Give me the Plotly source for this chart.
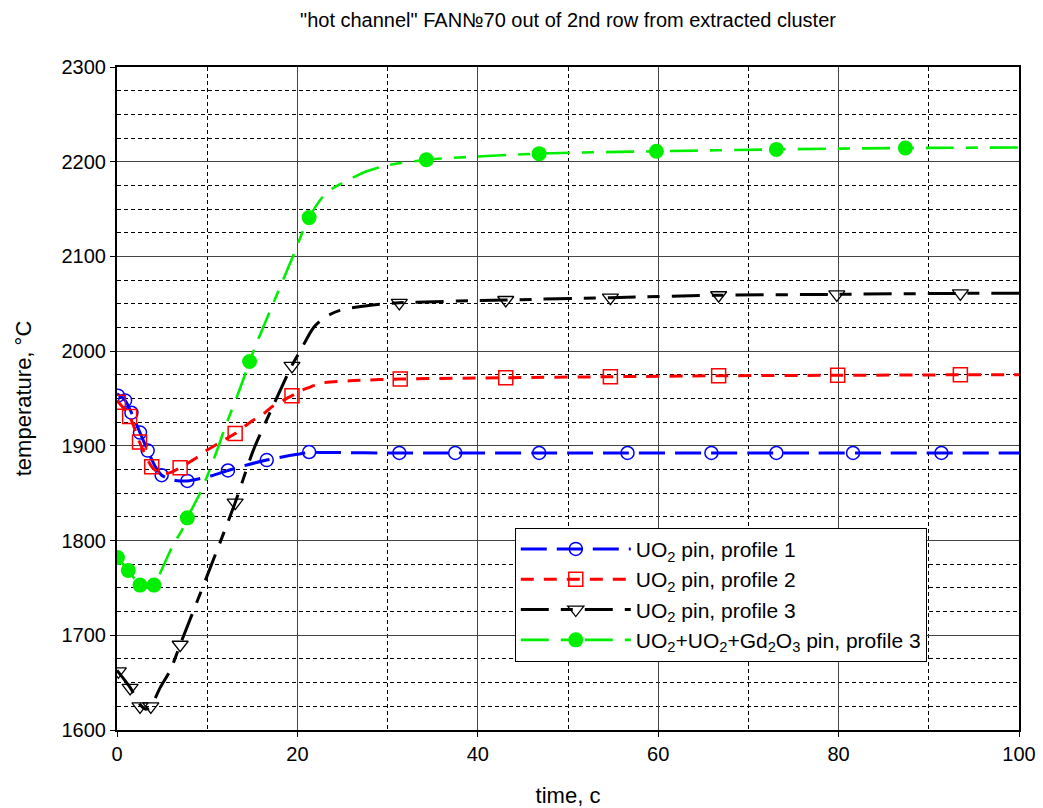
import plotly.graph_objects as go

# ---------------- data ----------------
# UO2 pin, profile 1 (blue)
t_p1 = [0.1, 0.9, 1.6, 2.55, 3.4, 4.95, 7.8, 12.3, 16.6, 21.3, 31.3, 37.5, 46.8, 56.6, 65.9, 73.1, 81.6, 91.4]
T_p1 = [1953, 1948, 1935, 1914, 1895, 1869, 1863, 1874, 1885, 1893.5, 1892.5, 1892.5, 1892.5, 1892.5, 1892.5, 1892.5, 1892.5, 1892.5]
t_p1_line = [0, 0.9, 1.6, 2.55, 3.4, 4.2, 4.95, 6.0, 7.0, 7.8, 9.0, 10.5, 12.3, 14.5, 16.6, 19.0, 21.3, 23.0, 30, 50, 75, 100]
T_p1_line = [1955, 1948, 1935, 1914, 1895, 1879, 1869, 1864.5, 1863, 1863, 1865, 1868.5, 1874, 1880, 1885, 1889.5, 1893, 1893, 1892.5, 1892.5, 1892.5, 1892.5]

# UO2 pin, profile 2 (red)
t_p2 = [0.15, 1.4, 2.5, 3.85, 7.0, 13.1, 19.4, 31.4, 43.1, 54.7, 66.7, 79.9, 93.5]
T_p2 = [1946, 1931, 1904, 1878, 1877, 1913, 1953, 1970.5, 1972, 1973, 1974, 1974.5, 1975]
t_p2_line = [0, 1.4, 2.5, 3.85, 4.8, 5.8, 7.0, 8.6, 9.9, 11.4, 13.1, 14.7, 16.4, 17.3, 19.4, 20.3, 21.4, 22.5, 25.8, 31.4, 43.1, 54.7, 66.7, 79.9, 93.5, 100]
T_p2_line = [1948, 1931, 1904, 1878, 1871, 1871.5, 1877, 1886, 1895, 1903.5, 1913, 1924.5, 1935, 1942, 1953, 1958, 1962, 1966, 1968.7, 1970.5, 1972, 1973, 1974, 1974.5, 1975, 1975]

# UO2 pin, profile 3 (black)
t_p3 = [0.15, 1.45, 2.55, 3.75, 7.0, 13.1, 19.4, 31.3, 43.1, 54.7, 66.7, 79.8, 93.5]
T_p3 = [1662, 1644.5, 1625, 1625, 1690, 1840, 1984.5, 2051, 2054, 2056.5, 2059, 2060, 2061]
t_p3_line = [0, 1.45, 2.55, 3.2, 3.75, 4.8, 5.9, 7.0, 10.0, 13.1, 15.1, 17.2, 19.4, 20.3, 21.8, 23.1, 24.7, 27.7, 31.3, 43.1, 54.7, 66.7, 79.8, 93.5, 100]
T_p3_line = [1663, 1645, 1627, 1622, 1625, 1645, 1663, 1690, 1763, 1840, 1895, 1940, 1985, 2000, 2025, 2036, 2043, 2048, 2051, 2054, 2056.5, 2059, 2060, 2061, 2061]

# UO2+UO2+Gd2O3 pin, profile 3 (green)
t_gd = [0.05, 1.25, 2.55, 4.1, 7.8, 14.7, 21.3, 34.3, 46.8, 59.8, 73.1, 87.4]
T_gd = [1782, 1768.5, 1753, 1753, 1824, 1989, 2141, 2202, 2208.5, 2211, 2213, 2214.5]
t_gd_line = [0, 1.25, 2.55, 3.3, 4.1, 4.8, 6.2, 7.2, 7.8, 9.2, 10.0, 11.2, 12.0, 13.3, 14.0, 14.7, 15.5, 16.2, 17.3, 19.5, 21.3, 23.2, 25.5, 27.7, 29.9, 34.3, 46.8, 59.8, 73.1, 87.4, 100]
T_gd_line = [1783, 1768.5, 1753, 1750, 1753, 1766, 1795, 1811, 1824, 1850, 1868, 1898, 1920, 1952, 1970, 1989, 2009, 2025, 2050, 2100, 2141, 2167, 2180, 2190, 2196, 2202, 2208.5, 2211, 2213, 2214.5, 2215]

names = [
    "UO<sub>2</sub> pin, profile 1",
    "UO<sub>2</sub> pin, profile 2",
    "UO<sub>2</sub> pin, profile 3",
    "UO<sub>2</sub>+UO<sub>2</sub>+Gd<sub>2</sub>O<sub>3</sub> pin, profile 3",
]

title_text = '"hot channel" FAN№70 out of 2nd row from extracted cluster'
x_title = "time, c"
y_title = "temperature, °C"

FONT = "Liberation Sans, Arial, sans-serif"

series = [
    dict(tl=t_p1_line, Tl=T_p1_line, tm=t_p1, Tm=T_p1, color="#0000ff", dash="26px,10px", width=3,
         marker=dict(symbol="circle-open", size=13, color="#0000ff", line=dict(width=1.5, color="#0000ff"))),
    dict(tl=t_p2_line, Tl=T_p2_line, tm=t_p2, Tm=T_p2, color="#ff0000", dash="13px,10px", width=3,
         marker=dict(symbol="square-open", size=14, color="#ff0000", line=dict(width=1.5, color="#ff0000"))),
    dict(tl=t_p3_line, Tl=T_p3_line, tm=t_p3, Tm=T_p3, color="#000000", dash="28px,12px,12px,12px", width=3,
         marker=dict(symbol="triangle-down-open", size=14, color="#000000", line=dict(width=1.3, color="#000000"))),
    dict(tl=t_gd_line, Tl=T_gd_line, tm=t_gd, Tm=T_gd, color="#00ee00", dash="28px,12px,12px,12px", width=2.6,
         marker=dict(symbol="circle", size=15, color="#00ee00", line=dict(width=0))),
]

fig = go.Figure()
for s, name in zip(series, names):
    fig.add_trace(go.Scatter(x=s["tl"], y=s["Tl"], mode="lines", showlegend=False, hoverinfo="skip",
                             line=dict(color=s["color"], width=s["width"], dash=s["dash"], shape="spline", smoothing=0.8)))
    fig.add_trace(go.Scatter(x=s["tm"], y=s["Tm"], mode="markers", showlegend=False, marker=s["marker"]))
    fig.add_trace(go.Scatter(x=[None], y=[None], mode="lines+markers", name=name,
                             line=dict(color=s["color"], width=s["width"], dash=s["dash"]), marker=s["marker"]))

axis_common = dict(
    showline=True, linewidth=2, linecolor="black", mirror=True,
    showgrid=True, gridcolor="#444444", gridwidth=1,
    ticks="outside", ticklen=5, tickcolor="black",
    tickfont=dict(family=FONT, size=20, color="black"),
    zeroline=False,
)

fig.update_xaxes(range=[0, 100], tick0=0, dtick=20,
                 minor=dict(tick0=0, dtick=10, showgrid=True, gridcolor="black", griddash="4px,3px", gridwidth=1),
                 title=dict(text=x_title, font=dict(family=FONT, size=22, color="black"), standoff=27),
                 **axis_common)
fig.update_yaxes(range=[1600, 2300], tick0=1600, dtick=100,
                 minor=dict(tick0=1600, dtick=25, showgrid=True, gridcolor="black", griddash="4px,3px", gridwidth=1),
                 title=dict(text=y_title, font=dict(family=FONT, size=22, color="black"), standoff=24),
                 **axis_common)

fig.update_layout(
    width=1043, height=808,
    margin=dict(l=117, r=24, t=67, b=78, autoexpand=False),
    paper_bgcolor="white", plot_bgcolor="white",
    title=dict(text=title_text, x=0.5, xref="paper", y=1 - 20 / 808, yanchor="middle",
               font=dict(family=FONT, size=20, color="black")),
    legend=dict(x=0.441, y=0.305, xanchor="left", yanchor="top",
                bgcolor="white", bordercolor="black", borderwidth=1,
                font=dict(family=FONT, size=21, color="black"), itemwidth=110, tracegroupgap=0),
    showlegend=True,
)

fig.write_html("out.html")
